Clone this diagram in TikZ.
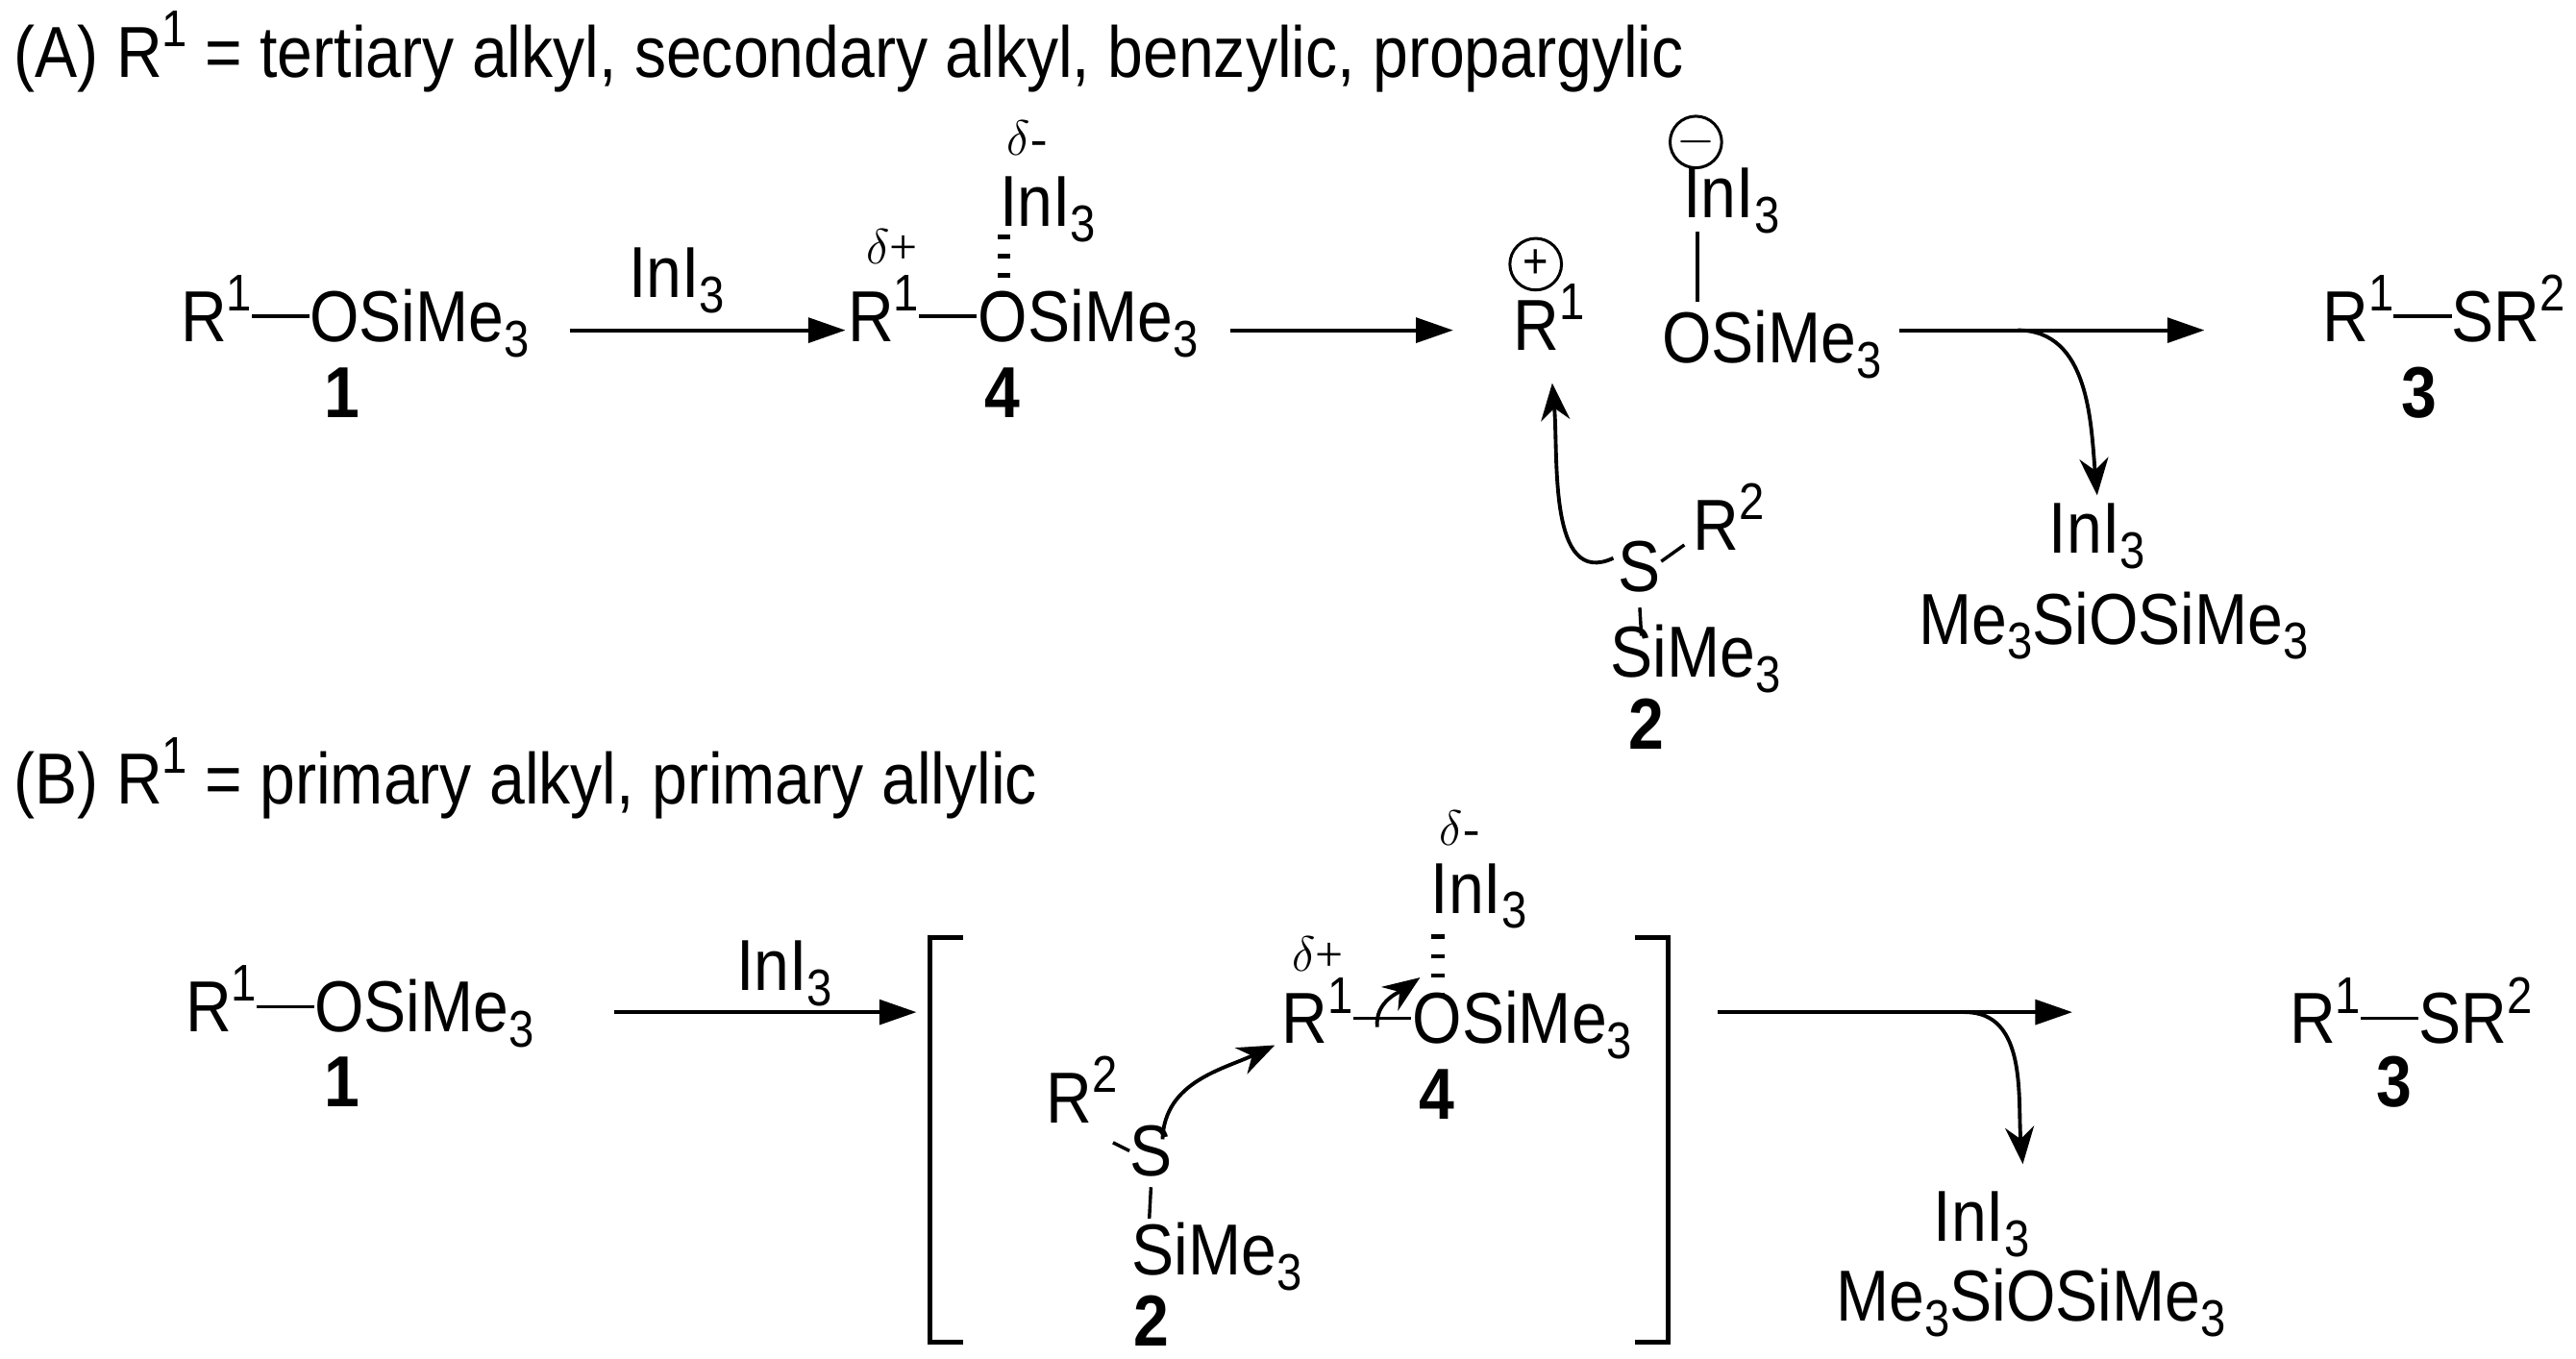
\documentclass[tikz,border=0pt]{standalone}
\usepackage{fontspec}
\setmainfont[FakeStretch=0.88]{Liberation Sans}
\newfontfamily\dfont{Liberation Serif}
\usetikzlibrary{arrows.meta}
\newcommand{\bnd}{\rule[0.33em]{0.8em}{0.8pt}}
\newcommand{\sub}[1]{\raisebox{-0.4ex}{\fontsize{12.5}{13}\selectfont #1}}
\newcommand{\sups}[1]{\raisebox{0.8ex}{\fontsize{12.5}{13}\selectfont #1}}
\begin{document}
\begin{tikzpicture}[x=0.4pt,y=-0.4pt,
  t/.style={inner sep=0pt,anchor=base,font=\fontsize{17.5}{20}\selectfont},
  tw/.style={t,anchor=base west},
  te/.style={t,anchor=base east},
  lab/.style={t,font=\fontsize{17.5}{20}\selectfont\bfseries},
  dl/.style={t,font=\fontsize{12}{13}\selectfont\dfont},
  arr/.style={-{Triangle[length=9pt,width=6pt]},line width=0.9pt},
  carr/.style={-{Stealth[length=9pt,width=7pt]},line width=0.9pt},
  bond/.style={line width=0.8pt},
  chg/.style={circle,draw,line width=0.7pt,inner sep=0pt,minimum size=12.5pt,font=\fontsize{12}{12}\selectfont},
  hb/.style={line width=3.2pt,dash pattern=on 1.1pt off 3.6pt}]
\useasboundingbox (0,0) rectangle (1560,823);
% ---------- A ----------
\node[tw] (ta) at (8,47) {(A) R\sups{1} = tertiary alkyl, secondary alkyl, benzylic, propargylic};
\node[t] (a1) at (215,207) {R\sups{1}\bnd OSiMe\sub{3}};
\node[lab] (a1l) at (207,253) {1};
\draw[arr] (345,200) -- (512,200);
\node[t] (ai1) at (410,180) {InI\sub{3}};
\node[te] (a4r) at (592,207) {R\sups{1}\bnd};
\node[tw] (a4o) at (592,207) {OSiMe\sub{3}};
\node[dl] (a4dp) at (540,160) {$\delta$+};
\node[tw] (a4i) at (605,137) {InI\sub{3}};
\node[dl] (a4dm) at (622,94) {$\delta$-};
\coordinate (o4) at (608,180);
\draw[hb] (o4) -- ++(0,-38);
\node[lab] (a4l) at (607,253) {4};
\draw[arr] (745,200) -- (880,200);
\node[t] (cat) at (938,212) {R\sups{1}};
\node[chg] (plus) at (930,160) {+};
\node[chg] (minus) at (1027,86) {$-$};
\node[tw] (ani) at (1019,132) {InI\sub{3}};
\node[t] (ano) at (1073,220) {OSiMe\sub{3}};
\draw[bond] (1028,140) -- (1028,183);
\draw[arr] (1150,200) -- (1335,200);
\draw[carr] (1222,200) to[out=0,in=95] (1270,300);
\node[t] (a3) at (1480,207) {R\sups{1}\bnd SR\sups{2}};
\node[lab] (a3l) at (1465,253) {3};
\node[t] (as) at (993,358) {S};
\node[tw] (ar2) at (1025,333) {R\sups{2}};
\draw[bond] (1006,340) -- (1020,330);
\draw[bond] (993,368) -- (994,385);
\node[tw] (asi) at (975,410) {SiMe\sub{3}};
\node[lab] (a2l) at (997,454) {2};
\draw[carr] (977,338) to[out=205,in=275] (940,232);
\node[t] (abi) at (1270,335) {InI\sub{3}};
\node[t] (abm) at (1280,390) {Me\sub{3}SiOSiMe\sub{3}};
% ---------- B ----------
\node[tw] (tb) at (8,487) {(B) R\sups{1} = primary alkyl, primary allylic};
\node[t] (b1) at (218,625) {R\sups{1}\bnd OSiMe\sub{3}};
\node[lab] (b1l) at (207,670) {1};
\draw[arr] (372,613) -- (555,613);
\node[t] (bi1) at (475,600) {InI\sub{3}};
\draw[line width=1.1pt] (583,568) -- (563,568) -- (563,813) -- (583,813);
\draw[line width=1.1pt] (990,568) -- (1010,568) -- (1010,813) -- (990,813);
\node[te] (b4r) at (855,632) {R\sups{1}\bnd};
\node[tw] (b4o) at (855,632) {OSiMe\sub{3}};
\node[dl] (b4dp) at (798,588) {$\delta$+};
\node[tw] (b4i) at (866,553) {InI\sub{3}};
\node[dl] (b4dm) at (884,512) {$\delta$-};
\draw[hb] (871,604) -- (871,564);
\node[lab] (b4l) at (870,678) {4};
\node[t] (br2) at (655,680) {R\sups{2}};
\node[t] (bs) at (697,712) {S};
\draw[bond] (674,692) -- (684,697);
\draw[bond] (697,719) -- (696,738);
\node[tw] (bsi) at (685,772) {SiMe\sub{3}};
\node[lab] (b2l) at (697,815) {2};
\draw[carr] (704,690) to[out=88,in=205] (772,633);
\draw[carr] (834,622) to[out=95,in=215] (860,592);
\draw[arr] (1040,613) -- (1255,613);
\draw[carr] (1190,613) to[out=0,in=95] (1225,705);
\node[t] (b3) at (1460,632) {R\sups{1}\bnd SR\sups{2}};
\node[lab] (b3l) at (1450,670) {3};
\node[t] (bbi) at (1200,752) {InI\sub{3}};
\node[t] (bbm) at (1230,800) {Me\sub{3}SiOSiMe\sub{3}};
\end{tikzpicture}
\end{document}
